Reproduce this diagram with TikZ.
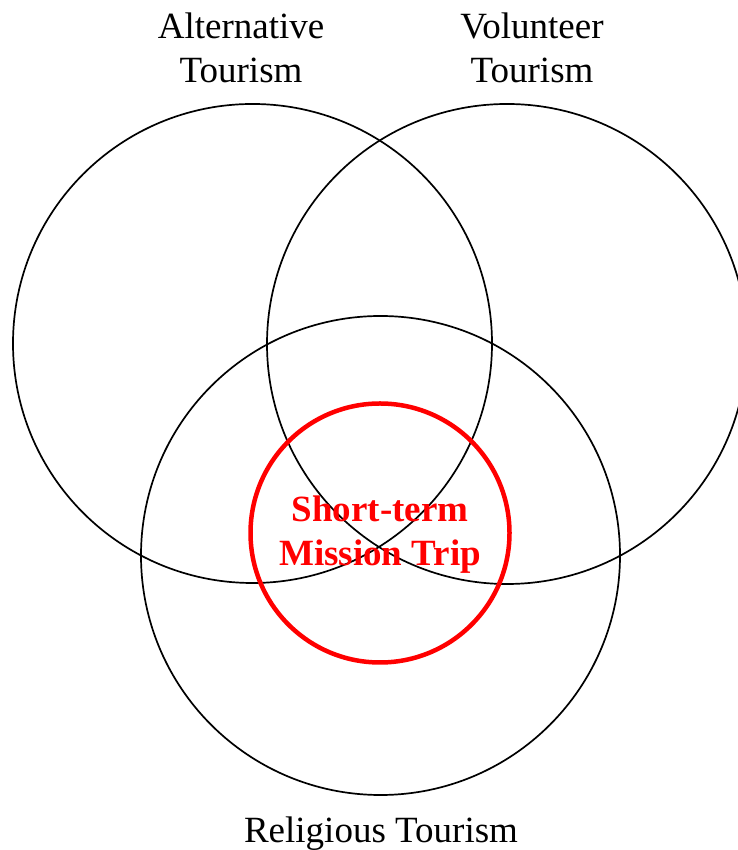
\documentclass[tikz,border=0pt]{standalone}
\usepackage{fontspec}
\setmainfont{Liberation Serif}
\begin{document}
\begin{tikzpicture}[x=1pt,y=1pt,
  setring/.style={draw=black,line width=1.7pt},
  coring/.style={draw=red,line width=4.5pt},
  setlabel/.style={font=\fontsize{37}{44}\selectfont,align=center,anchor=base,inner sep=0pt},
  corelabel/.style={font=\fontsize{37}{44}\selectfont\bfseries,text=red,align=center,anchor=base,inner sep=0pt}]
\useasboundingbox (0,0) rectangle (737,850);
\coordinate (altc) at (252.5,506.5);
\coordinate (volc) at (507,506);
\coordinate (relc) at (380.5,294.5);
\coordinate (stmc) at (380,317);
\draw[setring] (altc) circle[radius=239.5];
\draw[setring] (volc) circle[radius=240];
\draw[setring] (relc) circle[radius=239.5];
\draw[coring] (stmc) circle[radius=129.5];
\node[setlabel] (alt) at (241,767) {Alternative\\Tourism};
\node[setlabel] (vol) at (532,767) {Volunteer\\Tourism};
\node[setlabel] (rel) at (381,8) {Religious Tourism};
\node[corelabel] (stm) at (380,284) {Short-term\\Mission Trip};
\end{tikzpicture}
\end{document}
